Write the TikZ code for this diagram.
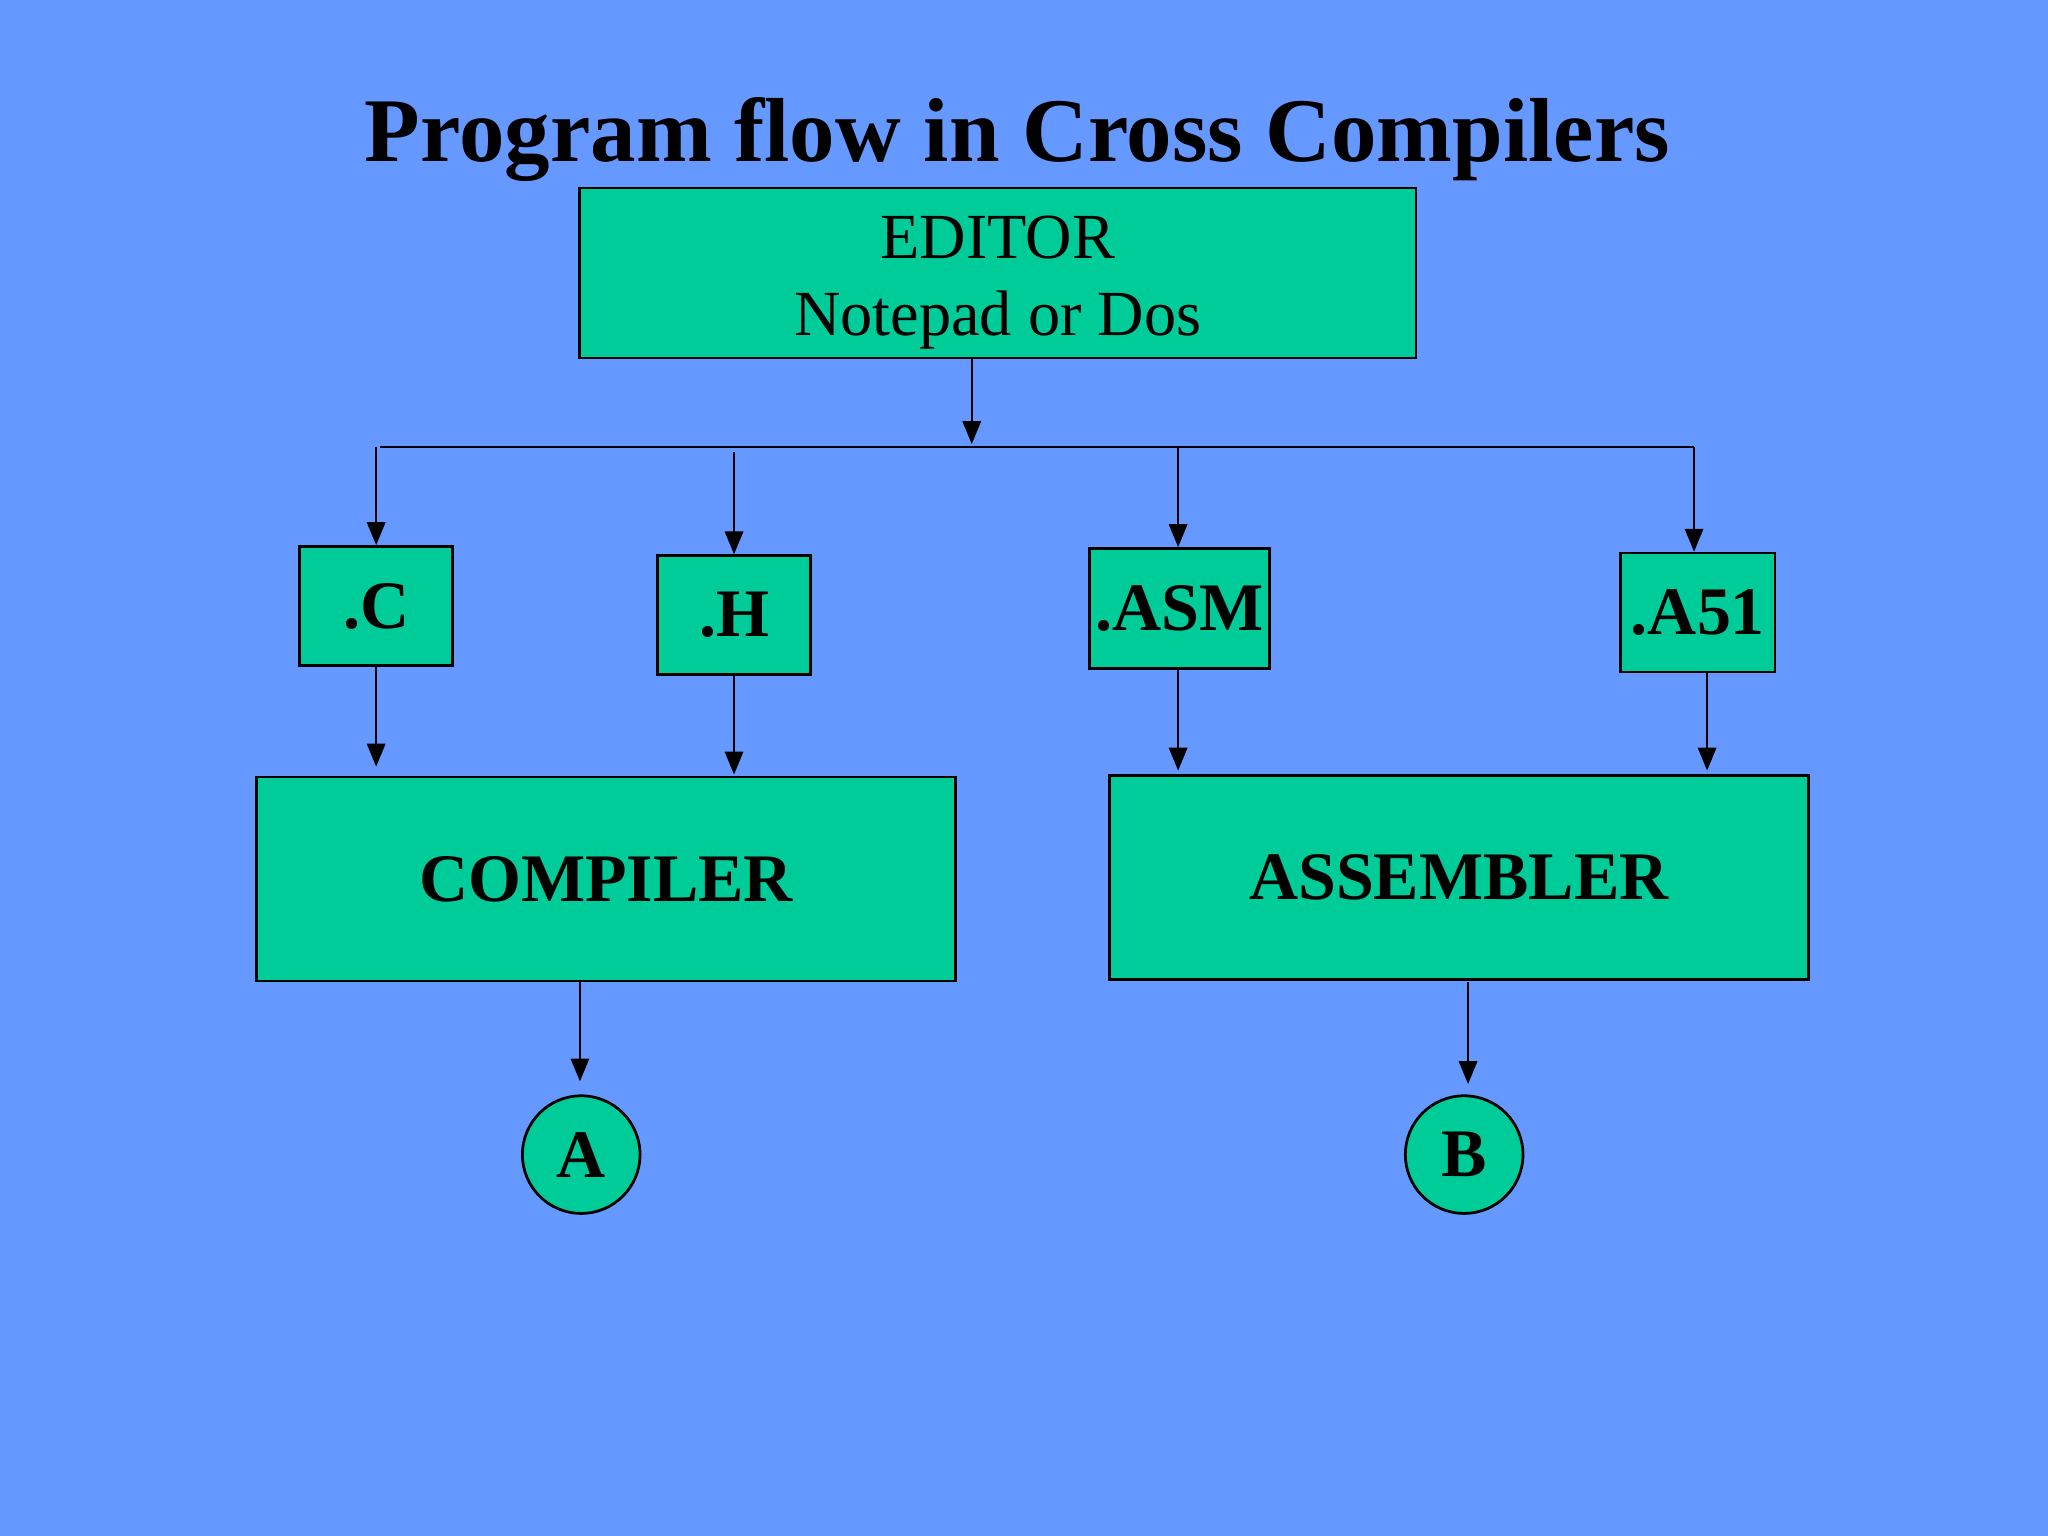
\documentclass[tikz,border=0pt]{standalone}
\usepackage{fontspec}
\setmainfont{Liberation Serif}
\usetikzlibrary{arrows.meta}
\definecolor{bg}{HTML}{6699FF}
\definecolor{bx}{HTML}{00CC99}
\begin{document}
\begin{tikzpicture}[x=0.01cm,y=-0.01cm,
  box/.style={draw=black,fill=bx,line width=0.6pt,inner sep=0pt},
  lab/.style={font=\fontsize{14.8}{16}\selectfont\bfseries},
  arr/.style={-{Triangle[length=5pt,width=4pt]},line width=0.5pt}]
\fill[bg] (0,0) rectangle (1568,1176);
\useasboundingbox (0,0) rectangle (1568,1176);
\node[font=\fontsize{19.8}{22}\selectfont\bfseries] (title) at (779,107) {Program flow in Cross Compilers};
\node[box,minimum width=6.4cm,minimum height=1.3cm] (ed) at (764,209) {};
\node[font=\fontsize{14}{18}\selectfont] (edt) at (764,182) {EDITOR};
\node[font=\fontsize{14}{18}\selectfont] (eds) at (764,245) {Notepad or Dos};
\node[box,lab,minimum width=1.17cm,minimum height=0.91cm] (c) at (288,464) {.C};
\node[box,lab,minimum width=1.17cm,minimum height=0.91cm] (h) at (562,471) {.H};
\node[box,lab,minimum width=1.38cm,minimum height=0.92cm] (asm) at (903,466) {.ASM};
\node[box,lab,minimum width=1.18cm,minimum height=0.91cm] (a51) at (1300,469) {.A51};
\node[box,lab,minimum width=5.35cm,minimum height=1.56cm] (comp) at (464,673) {COMPILER};
\node[box,lab,minimum width=5.35cm,minimum height=1.56cm] (asmb) at (1117,672) {ASSEMBLER};
\node[box,lab,circle,minimum size=0.9cm] (A) at (445,884) {A};
\node[box,lab,circle,minimum size=0.9cm] (B) at (1121,884) {B};
\coordinate (bl) at (291,342); \coordinate (br) at (1297,342);
\draw[line width=0.5pt] (bl) -- (br);
\draw[arr] (ed.south -| 744,0) -- (744,340);
\draw[arr] (288,342) -- (c.north);
\draw[arr] (562,346) -- (h.north);
\draw[arr] (902,342) -- (asm.north -| 902,0);
\draw[arr] (br) -- (a51.north -| 1297,0);
\draw[arr] (c.south) -- (288,587);
\draw[arr] (h.south) -- (562,593);
\draw[arr] (asm.south -| 902,0) -- (902,590);
\draw[arr] (a51.south -| 1307,0) -- (1307,590);
\draw[arr] (comp.south -| 444,0) -- (444,828);
\draw[arr] (1124,752) -- (1124,830);
\end{tikzpicture}
\end{document}
